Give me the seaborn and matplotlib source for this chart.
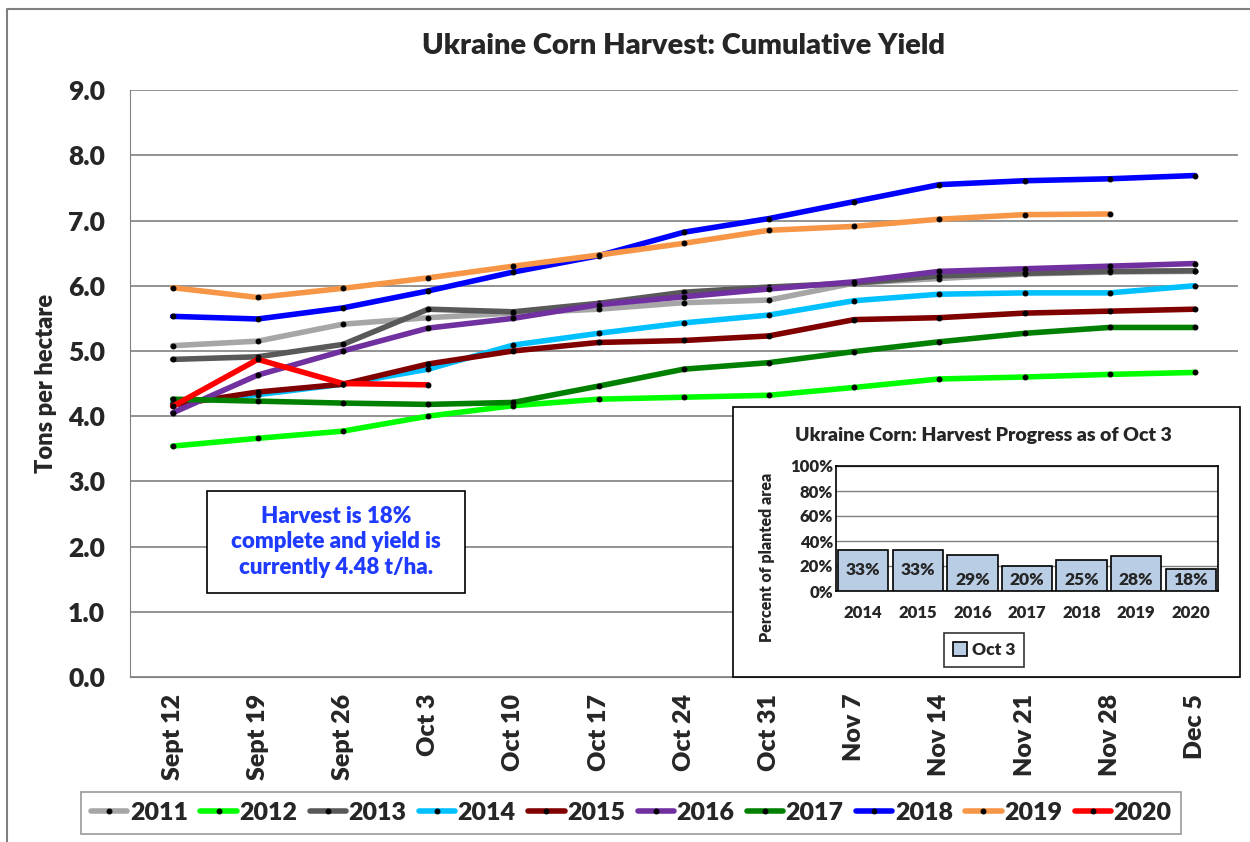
import numpy as np
import pandas as pd
import matplotlib
matplotlib.use('Agg')
import matplotlib.pyplot as plt
import seaborn as sns
from matplotlib.patches import Rectangle
from matplotlib.lines import Line2D

# Weekly cumulative yield (t/ha)
weeks = ['Sept 12', 'Sept 19', 'Sept 26', 'Oct 3', 'Oct 10', 'Oct 17', 'Oct 24',
         'Oct 31', 'Nov 7', 'Nov 14', 'Nov 21', 'Nov 28', 'Dec 5']

y2011 = [5.08, 5.15, 5.41, 5.51, 5.58, 5.64, 5.74, 5.78, 6.04, 6.11, 6.18, 6.21, 6.22]
y2012 = [3.54, 3.66, 3.77, 4.00, 4.16, 4.26, 4.29, 4.32, 4.44, 4.57, 4.60, 4.64, 4.67]
y2013 = [4.87, 4.91, 5.10, 5.64, 5.60, 5.73, 5.90, 5.98, 6.04, 6.15, 6.19, 6.22, 6.23]
y2014 = [4.20, 4.33, 4.49, 4.72, 5.09, 5.27, 5.43, 5.55, 5.77, 5.87, 5.89, 5.89, 6.00]
y2015 = [4.17, 4.37, 4.49, 4.80, 5.00, 5.13, 5.16, 5.23, 5.48, 5.51, 5.58, 5.61, 5.64]
y2016 = [4.05, 4.63, 5.00, 5.35, 5.50, 5.71, 5.83, 5.95, 6.06, 6.22, 6.26, 6.30, 6.34]
y2017 = [4.26, 4.23, 4.20, 4.18, 4.21, 4.46, 4.72, 4.82, 4.99, 5.14, 5.27, 5.36, 5.36]
y2018 = [5.53, 5.49, 5.66, 5.92, 6.21, 6.46, 6.82, 7.03, 7.29, 7.55, 7.61, 7.64, 7.69]
y2019 = [5.97, 5.82, 5.96, 6.12, 6.30, 6.47, 6.65, 6.85, 6.91, 7.02, 7.09, 7.10]
y2020 = [4.15, 4.87, 4.50, 4.48]

years = ['2011', '2012', '2013', '2014', '2015', '2016', '2017', '2018', '2019', '2020']
series = [y2011, y2012, y2013, y2014, y2015, y2016, y2017, y2018, y2019, y2020]
colors = ['#A6A6A6', '#00FF00', '#595959', '#00C0FF', '#800000',
          '#7030A0', '#008000', '#0000FF', '#F79646', '#FF0000']

# Inset: harvest progress as of Oct 3
prog_years = ['2014', '2015', '2016', '2017', '2018', '2019', '2020']
prog_pct = [33, 33, 29, 20, 25, 28, 18]

sns.set_style('white')
plt.rcParams['font.family'] = ['Lato', 'DejaVu Sans']
W = 'heavy'

fig = plt.figure(figsize=(12.5, 8.42), dpi=100)
# outer chart border (left and top edges visible)
fig.add_artist(Line2D([7 / 1250, 7 / 1250, 1.0], [0, 1 - 9 / 842, 1 - 9 / 842],
                      transform=fig.transFigure, color='#808080', lw=1.5))

ax = fig.add_axes([0.104, 0.196, 0.886, 0.697])
xpos = np.arange(len(weeks))
for yr, vals, col in zip(years, series, colors):
    sns.lineplot(x=xpos[:len(vals)], y=vals, ax=ax, color=col, lw=4, marker='o',
                 markersize=3.5, markerfacecolor='black', markeredgecolor='black',
                 label=yr, zorder=3)

ax.set_xlim(-0.5, len(weeks) - 0.5)
ax.set_ylim(0, 9)
ticks = np.arange(0, 9.1, 1.0)
ax.set_yticks(ticks)
ax.set_yticklabels([f'{v:.1f}' for v in ticks], fontsize=19, fontweight=W)
ax.set_xticks(xpos)
ax.set_xticklabels(weeks, rotation=90, fontsize=18, fontweight=W)
ax.tick_params(axis='x', length=6, color='#808080', pad=6)
ax.tick_params(axis='y', length=0, pad=18)
ax.grid(axis='y', color='#808080', lw=1.2)
for s in ['top', 'right']:
    ax.spines[s].set_visible(False)
ax.spines['left'].set_color('#808080')
ax.spines['bottom'].set_color('#808080')
ax.set_ylabel('Tons per hectare', fontsize=17, fontweight=W, labelpad=8)
ax.set_title('Ukraine Corn Harvest: Cumulative Yield', fontsize=21,
             fontweight=W, pad=26)

leg = ax.legend(loc='center', bbox_to_anchor=(0.4526, -0.2317), ncol=10, frameon=True,
                fancybox=False, edgecolor='#808080', prop={'weight': W, 'size': 18},
                handlelength=1.45, handletextpad=0.1, columnspacing=0.5,
                borderpad=0.4)
leg.get_frame().set_linewidth(1.2)

# annotation box
fig.patches.append(Rectangle((207 / 1250, 1 - 593 / 842), 258 / 1250, 102 / 842,
                             transform=fig.transFigure, facecolor='white',
                             edgecolor='black', lw=1.2, zorder=4))
fig.text(336 / 1250, 1 - 542 / 842, 'Harvest is 18%\ncomplete and yield is\ncurrently 4.48 t/ha.',
         ha='center', va='center', color='#1F3BFF', fontsize=16, fontweight=W,
         linespacing=1.25, zorder=5)

# inset box and chart
fig.patches.append(Rectangle((733 / 1250, 1 - 677 / 842), 507 / 1250, 270 / 842,
                             transform=fig.transFigure, facecolor='white',
                             edgecolor='black', lw=1.2, zorder=5))
ins = fig.add_axes([836 / 1250, 1 - 591 / 842, 382 / 1250, 125 / 842], zorder=6)
prog_df = pd.DataFrame({'year': prog_years, 'pct': prog_pct})
sns.barplot(data=prog_df, x='year', y='pct', ax=ins, color='#B9CDE5',
            edgecolor='black', linewidth=1.2, width=0.92, saturation=1,
            label='Oct 3', zorder=3)
for i, v in enumerate(prog_pct):
    ins.text(i, 17 if v >= 30 else 9, f'{v}%', ha='center', va='center',
             fontsize=12.5, fontweight=W, zorder=4)
ins.set_ylim(0, 100)
ins.set_yticks(range(0, 101, 20))
ins.set_yticklabels([f'{t}%' for t in range(0, 101, 20)], fontsize=12, fontweight=W)
ins.tick_params(axis='y', length=0, pad=2)
ins.tick_params(axis='x', length=0, pad=10)
for lab in ins.get_xticklabels():
    lab.set_fontweight(W)
    lab.set_fontsize(12)
ins.grid(axis='y', color='#808080', lw=1)
for s in ins.spines.values():
    s.set_color('black')
    s.set_linewidth(1.2)
ins.set_xlabel('')
ins.set_ylabel('Percent of planted area', fontsize=11.5, fontweight=W, labelpad=8)
ins.yaxis.set_label_coords(-0.16, 0.27)
fig.text(983 / 1250, 1 - 435 / 842, 'Ukraine Corn: Harvest Progress as of Oct 3',
         ha='center', va='center', fontsize=14, fontweight=W, zorder=7)
ileg = ins.legend(loc='center', bbox_to_anchor=((984 - 836) / 382, -(650 - 591) / 125),
                  frameon=True, fancybox=False, edgecolor='black',
                  prop={'weight': W, 'size': 12.5},
                  handlelength=0.8, handleheight=0.8, handletextpad=0.3, borderpad=0.5)
ileg.get_frame().set_linewidth(1.2)

fig.savefig('out.png', dpi=100)
